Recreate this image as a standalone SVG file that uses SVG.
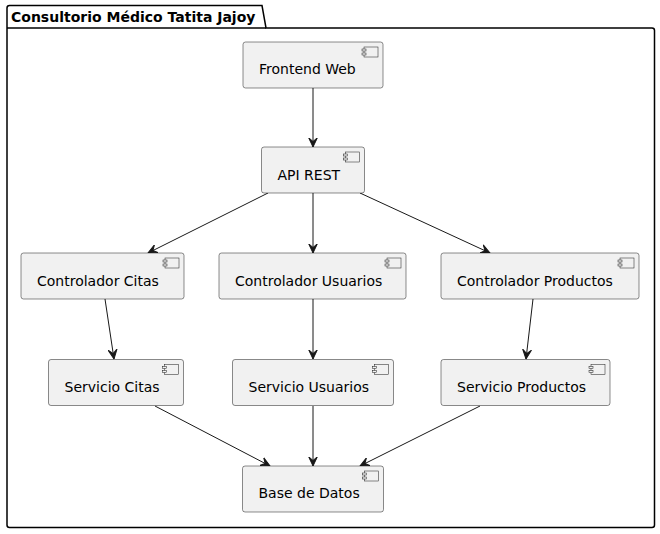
<svg xmlns="http://www.w3.org/2000/svg" width="660" height="534" viewBox="0 0 660 534">
<style>
.b{fill:#F1F1F1;stroke:#181818;stroke-width:0.5}
.i{fill:#F1F1F1;stroke:#181818;stroke-width:0.5}
.n text{font-family:"DejaVu Sans",sans-serif;font-size:14px;fill:#000}
.c line{stroke:#181818;stroke-width:1}
</style>
<defs>
<marker id="a" viewBox="0 0 10 10" refX="9.5" refY="5" markerWidth="10" markerHeight="10" markerUnits="userSpaceOnUse" orient="auto">
<path d="M0,0.5 L9.5,5 L0,9.5 L4,5 Z" fill="#181818" stroke="#181818" stroke-width="1" stroke-linejoin="miter"/>
</marker>
<g id="ic">
<rect x="-19" y="5" width="14" height="10" fill="#F1F1F1" stroke="#181818" stroke-width="0.5"/>
<rect x="-21" y="7" width="4" height="2" fill="#F1F1F1" stroke="#181818" stroke-width="0.5"/>
<rect x="-21" y="11" width="4" height="2" fill="#F1F1F1" stroke="#181818" stroke-width="0.5"/>
</g>
</defs>
<g id="pkg">
<path d="M9.5,5.5 L262,5.5 L266,28 L652,28 Q654.5,28 654.5,30.5 L654.5,525 Q654.5,527.5 652,527.5 L9.5,527.5 Q7,527.5 7,525 L7,8 Q7,5.5 9.5,5.5 Z" fill="none" stroke="#000" stroke-width="1.5"/>
<line x1="7" y1="28" x2="266" y2="28" stroke="#000" stroke-width="1.5"/>
<text x="11" y="22" font-family="DejaVu Sans,sans-serif" font-size="14" font-weight="bold">Consultorio Médico Tatita Jajoy</text>
</g>
<g class="c">
<line x1="313" y1="87" x2="313" y2="147" marker-end="url(#a)"/>
<line x1="268" y1="193" x2="148" y2="253" marker-end="url(#a)"/>
<line x1="313" y1="193" x2="313" y2="253" marker-end="url(#a)"/>
<line x1="360" y1="193" x2="490" y2="253" marker-end="url(#a)"/>
<line x1="105" y1="299" x2="114" y2="359" marker-end="url(#a)"/>
<line x1="313" y1="299" x2="313" y2="359" marker-end="url(#a)"/>
<line x1="533" y1="299" x2="526" y2="359" marker-end="url(#a)"/>
<line x1="155" y1="406" x2="270" y2="466" marker-end="url(#a)"/>
<line x1="313" y1="406" x2="313" y2="466" marker-end="url(#a)"/>
<line x1="480" y1="406" x2="360" y2="466" marker-end="url(#a)"/>
</g>
<g id="frontend" class="n"><rect class="b" x="243" y="42" width="140" height="46" rx="2.5"/><use href="#ic" x="383" y="42"/><text x="259" y="74">Frontend Web</text></g>
<g id="api" class="n"><rect class="b" x="261.5" y="147" width="103" height="46" rx="2.5"/><use href="#ic" x="364.5" y="147"/><text x="277.5" y="180">API REST</text></g>
<g id="ctrlCitas" class="n"><rect class="b" x="21" y="253" width="163" height="46" rx="2.5"/><use href="#ic" x="184" y="253"/><text x="37" y="286">Controlador Citas</text></g>
<g id="ctrlUsuarios" class="n"><rect class="b" x="219" y="253" width="187" height="46" rx="2.5"/><use href="#ic" x="406" y="253"/><text x="235" y="286">Controlador Usuarios</text></g>
<g id="ctrlProductos" class="n"><rect class="b" x="441" y="253" width="198" height="46" rx="2.5"/><use href="#ic" x="639" y="253"/><text x="457" y="286">Controlador Productos</text></g>
<g id="svcCitas" class="n"><rect class="b" x="48.5" y="359.5" width="135" height="46" rx="2.5"/><use href="#ic" x="183.5" y="359.5"/><text x="64.5" y="392">Servicio Citas</text></g>
<g id="svcUsuarios" class="n"><rect class="b" x="232.5" y="359.5" width="161" height="46" rx="2.5"/><use href="#ic" x="393.5" y="359.5"/><text x="248.5" y="392">Servicio Usuarios</text></g>
<g id="svcProductos" class="n"><rect class="b" x="441" y="359.5" width="169" height="46" rx="2.5"/><use href="#ic" x="610" y="359.5"/><text x="457" y="392">Servicio Productos</text></g>
<g id="db" class="n"><rect class="b" x="242.5" y="466" width="141" height="46" rx="2.5"/><use href="#ic" x="383.5" y="466"/><text x="258.5" y="498">Base de Datos</text></g>
</svg>
